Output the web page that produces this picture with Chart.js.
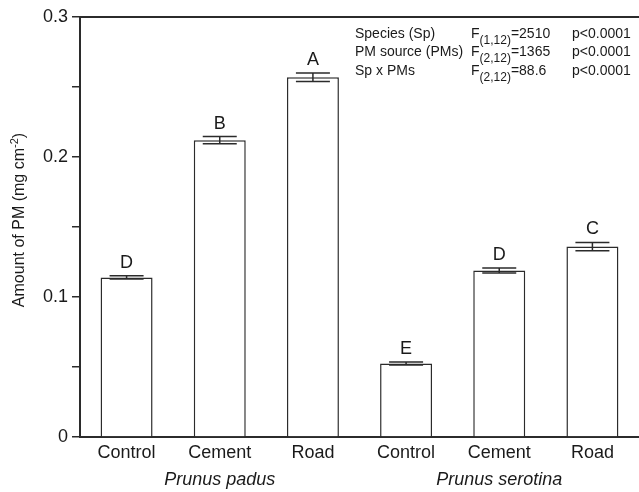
<!DOCTYPE html>
<html><head><meta charset="utf-8">
<script src="https://cdn.jsdelivr.net/npm/chart.js@4"></script>
<style>html,body{margin:0;padding:0;background:#fff}#wrap{width:639px;height:492px}</style>
</head><body><div id="wrap"><canvas id="c" width="639" height="492"></canvas></div>
<script>
const categories = ['Control','Cement','Road','Control','Cement','Road'];
const species = ['Prunus padus','Prunus serotina'];
const speciesGroups = [[0,2],[3,5]];
const means = [0.114, 0.212, 0.257, 0.0525, 0.119, 0.136];
const errors = [0.0012, 0.0026, 0.003, 0.001, 0.0018, 0.003];
const letters = ['D','B','A','E','D','C'];
const yTicks = [0, 0.05, 0.1, 0.15, 0.2, 0.25, 0.3];
const yTickLabels = ['0', '', '0.1', '', '0.2', '', '0.3'];
const statsTerms = ['Species (Sp)','PM source (PMs)','Sp x PMs'];
const statsDf = ['(1,12)','(2,12)','(2,12)'];
const statsF = ['2510','1365','88.6'];
const statsP = ['p<0.0001','p<0.0001','p<0.0001'];
const yTitleMain = 'Amount of PM (mg cm';
const yTitleSup = '-2';
const yTitleEnd = ')';

const FONT = '"Liberation Sans", Arial, Helvetica, sans-serif';
const INK = '#1a1a1a';
const LINE = '#2b2b2b';

const extras = {
  id: 'extras',
  afterDatasetsDraw(chart) {
    const ctx = chart.ctx;
    const area = chart.chartArea;
    const ys = chart.scales.y;
    const meta = chart.getDatasetMeta(0);
    ctx.save();
    // top frame line
    ctx.strokeStyle = LINE;
    ctx.lineWidth = 2;
    ctx.beginPath();
    ctx.moveTo(area.left, area.top);
    ctx.lineTo(chart.width, area.top);
    ctx.stroke();

    // error bars + letters
    ctx.lineWidth = 1.5;
    ctx.font = '18px ' + FONT;
    ctx.fillStyle = INK;
    ctx.textAlign = 'center';
    ctx.textBaseline = 'alphabetic';
    meta.data.forEach((bar, i) => {
      const x = bar.x;
      const yTop = ys.getPixelForValue(means[i] + errors[i]);
      const yBot = ys.getPixelForValue(means[i] - errors[i]);
      const half = 17;
      ctx.beginPath();
      ctx.moveTo(x, yTop); ctx.lineTo(x, yBot);
      ctx.moveTo(x - half, yTop); ctx.lineTo(x + half, yTop);
      ctx.moveTo(x - half, yBot); ctx.lineTo(x + half, yBot);
      ctx.stroke();
      ctx.fillText(letters[i], x, yTop - 8);
    });

    // species labels
    ctx.font = 'italic 18px ' + FONT;
    ctx.textBaseline = 'middle';
    speciesGroups.forEach((g, k) => {
      const cx = (meta.data[g[0]].x + meta.data[g[1]].x) / 2;
      ctx.fillText(species[k], cx, 480);
    });

    // stats table
    ctx.textAlign = 'left';
    ctx.textBaseline = 'alphabetic';
    const rowsY = [37.5, 56, 74.5];
    statsTerms.forEach((t, r) => {
      const by = rowsY[r];
      ctx.font = '14px ' + FONT;
      ctx.fillText(t, 355, by);
      let x = 471;
      ctx.fillText('F', x, by);
      x += ctx.measureText('F').width;
      ctx.font = '12px ' + FONT;
      ctx.fillText(statsDf[r], x, by + 6);
      x += ctx.measureText(statsDf[r]).width;
      ctx.font = '14px ' + FONT;
      ctx.fillText('=' + statsF[r], x, by);
      ctx.fillText(statsP[r], 572, by);
    });

    // y axis title with superscript
    ctx.translate(20, 220);
    ctx.rotate(-Math.PI / 2);
    ctx.font = '16px ' + FONT;
    const w1 = ctx.measureText(yTitleMain).width;
    const w3 = ctx.measureText(yTitleEnd).width;
    ctx.font = '11px ' + FONT;
    const w2 = ctx.measureText(yTitleSup).width;
    let x = -(w1 + w2 + w3) / 2;
    ctx.textBaseline = 'middle';
    ctx.font = '16px ' + FONT;
    ctx.fillText(yTitleMain, x, 0);
    x += w1;
    ctx.font = '11px ' + FONT;
    ctx.fillText(yTitleSup, x, -5);
    x += w2;
    ctx.font = '16px ' + FONT;
    ctx.fillText(yTitleEnd, x, 0);
    ctx.restore();
  }
};

new Chart(document.getElementById('c'), {
  type: 'bar',
  data: {
    labels: categories,
    datasets: [{
      data: means,
      backgroundColor: '#ffffff',
      borderColor: LINE,
      borderWidth: 1.5,
      borderSkipped: 'bottom',
      categoryPercentage: 1,
      barPercentage: 0.558
    }]
  },
  options: {
    responsive: false,
    devicePixelRatio: 1,
    animation: false,
    layout: { padding: { left: 0, right: 0, top: 17, bottom: 0 } },
    plugins: { legend: { display: false }, tooltip: { enabled: false } },
    scales: {
      x: {
        offset: true,
        grid: { display: false, drawTicks: false },
        border: { display: true, color: LINE, width: 2 },
        ticks: { font: { family: FONT, size: 18 }, color: INK, padding: 5 },
        afterFit(s) { s.height = 55; }
      },
      y: {
        min: 0, max: 0.3,
        afterBuildTicks(s) { s.ticks = yTicks.map(v => ({ value: v })); },
        grid: { drawOnChartArea: false, drawTicks: true, tickLength: 8, color: LINE, lineWidth: 1.5 },
        border: { display: true, color: LINE, width: 2 },
        ticks: {
          font: { family: FONT, size: 18 }, color: INK, padding: 4,
          callback(v, i) { return yTickLabels[i]; }
        },
        afterFit(s) { s.width = 80; }
      }
    }
  },
  plugins: [extras]
});
</script>
</body></html>
